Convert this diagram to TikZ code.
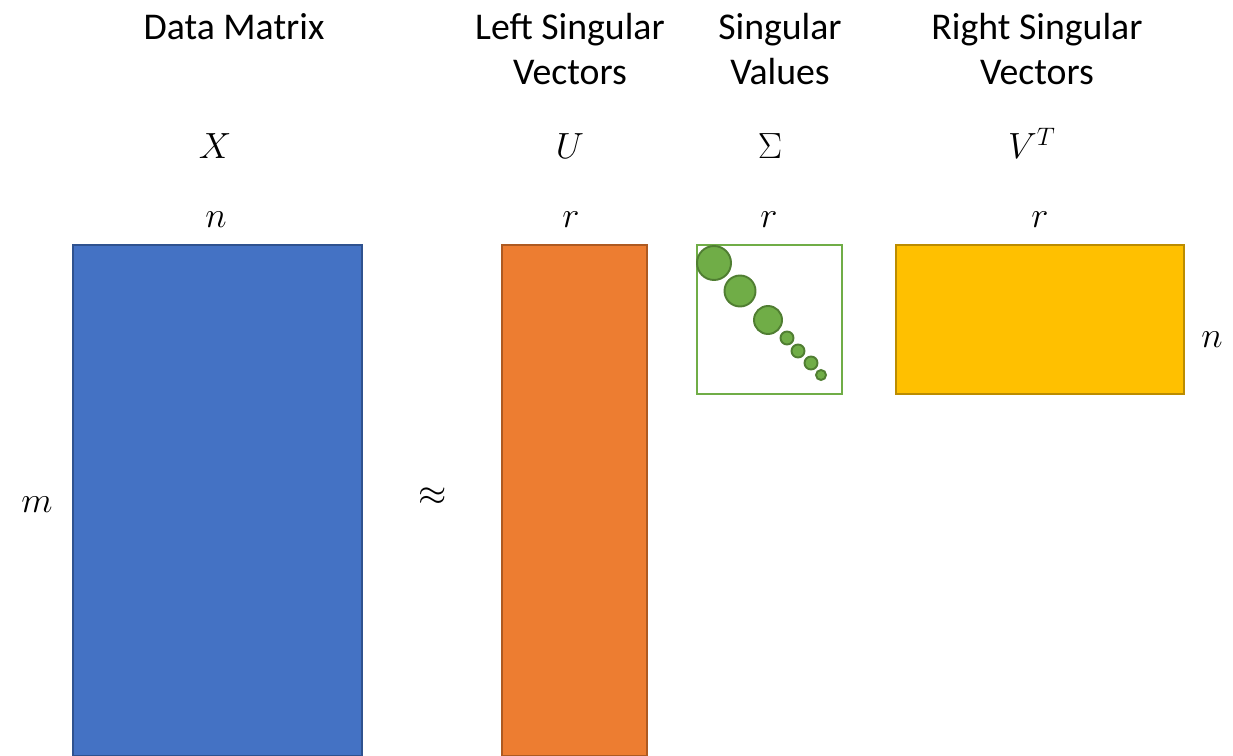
\documentclass[tikz,border=0pt]{standalone}
\usepackage{fontspec}
\setmainfont{Carlito}
\usepackage{tikz}

\begin{document}
\begin{tikzpicture}[x=0.02cm,y=-0.02cm,
  mat/.style={draw, line width=1.1pt, inner sep=0pt, anchor=north west},
  headtxt/.style={font=\fontsize{21.5}{25.5}\selectfont, align=center, inner sep=1pt},
  sym/.style={font=\fontsize{21}{25}\selectfont, inner sep=1pt},
  sv/.style={circle, draw=svgreenD, fill=svgreen, line width=1.1pt, inner sep=0pt}]
\definecolor{xblue}{HTML}{4472C4}\definecolor{xblueD}{HTML}{2F528F}
\definecolor{uorange}{HTML}{ED7D31}\definecolor{uorangeD}{HTML}{AE5A21}
\definecolor{svgreen}{HTML}{70AD47}\definecolor{svgreenD}{HTML}{507E32}
\definecolor{vyellow}{HTML}{FFC000}\definecolor{vyellowD}{HTML}{BC8C00}
\useasboundingbox (0,0) rectangle (1233,756);
% matrices
\node[mat, fill=xblue, draw=xblueD, minimum width=5.78cm, minimum height=10.22cm] (X) at (72,244) {};
\node[mat, fill=uorange, draw=uorangeD, minimum width=2.9cm, minimum height=10.22cm] (U) at (501,244) {};
\node[mat, fill=white, draw=svgreen, minimum width=2.9cm, minimum height=2.98cm] (S) at (696,244) {};
\node[mat, fill=vyellow, draw=vyellowD, minimum width=5.76cm, minimum height=2.98cm] (V) at (895,244) {};
% singular values
\foreach \cx/\cy/\rr [count=\i] in {714/263/34, 740/291/31, 768/320/28, 787/338/13, 798/351/13, 811/363/13, 821/375/10}
  \node[sv, minimum size=\rr*0.02cm] (s\i) at (\cx,\cy) {};
% captions
\node[headtxt] (cX) at (234,27) {Data Matrix};
\node[headtxt] (cU) at (570,49) {Left Singular\\Vectors};
\node[headtxt] (cS) at (780,49) {Singular\\Values};
\node[headtxt] (cV) at (1037,49) {Right Singular\\Vectors};
\node[sym] (lX) at (215,146) {$X$};
\node[sym] (lU) at (570,146) {$U$};
\node[sym] (lS) at (770,146) {$\Sigma$};
\node[sym] (lV) at (1032,143) {$V^T$};
% dimensions
\node[sym] (nX) at (216,220) {$n$};
\node[sym] (rU) at (571,220) {$r$};
\node[sym] (rS) at (769,220) {$r$};
\node[sym] (rV) at (1040,220) {$r$};
\node[sym] (nV) at (1212,340) {$n$};
\node[sym] (mX) at (37,505) {$m$};
\node[sym] (ap) at (433,497) {$\approx$};
\end{tikzpicture}
\end{document}
